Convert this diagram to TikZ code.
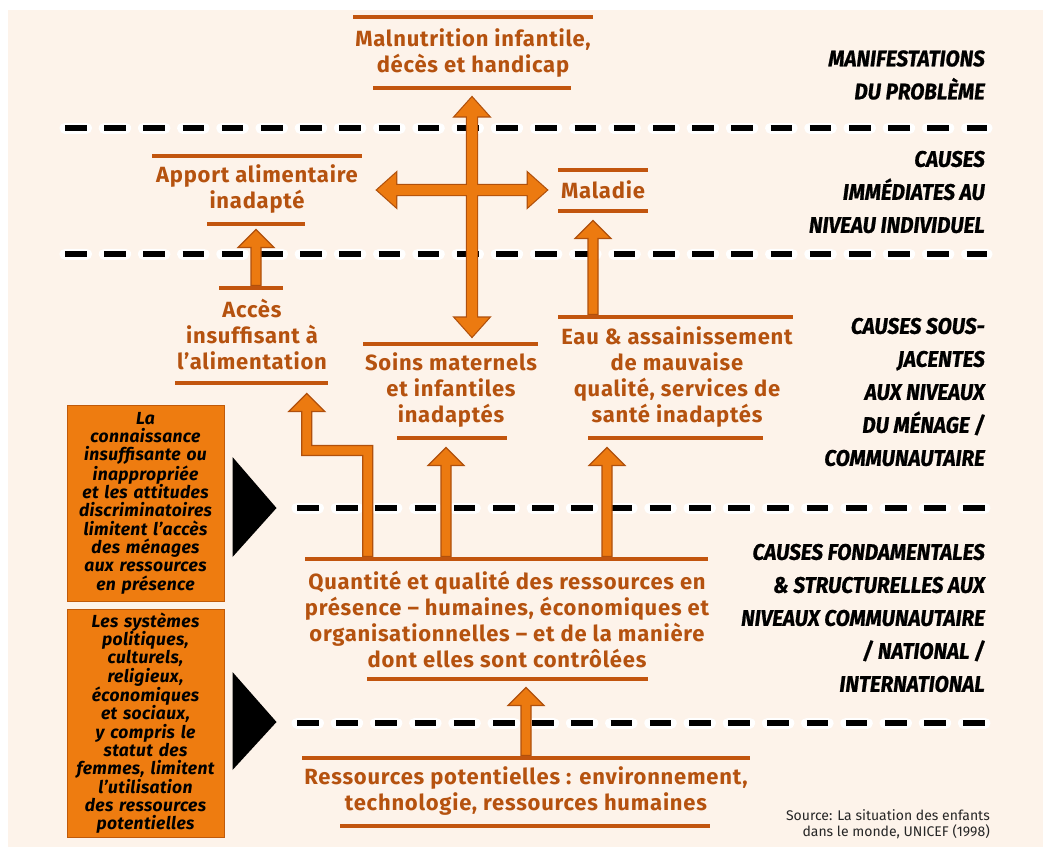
\documentclass[tikz,border=0pt]{standalone}
\usepackage{fontspec}
\setmainfont{Fira Sans}
\newfontfamily\lblfont{Fira Sans}[FakeStretch=0.92, FakeBold=0.8]
\newfontfamily\orfont{Fira Sans}[LetterSpace=3.5]
\newfontfamily\boxfont{Fira Sans}[LetterSpace=2]
\usetikzlibrary{calc}

\definecolor{cream}{HTML}{FDF3EA}
\definecolor{arrfill}{HTML}{EC7A10}
\definecolor{arrline}{HTML}{B0500C}
\definecolor{barcol}{HTML}{C2550E}
\definecolor{txtor}{HTML}{B5520F}
\definecolor{boxfill}{HTML}{EE7C10}
\definecolor{boxline}{HTML}{C05A0A}

\tikzset{
  causetext/.style={text=txtor, font=\orfont\fontsize{22}{26}\selectfont\bfseries, align=center, inner sep=0pt},
  levellabel/.style={font=\lblfont\fontsize{22.5}{33}\selectfont\bfseries\itshape, align=right, anchor=east, inner sep=0pt},
  bar/.style={fill=barcol, inner sep=0pt, minimum height=4.5pt, minimum width=#1},
  leftbox/.style={fill=boxfill, draw=boxline, line width=1pt, minimum width=157pt, inner sep=0pt,
    text width=155pt, align=center, font=\boxfont\fontsize{17.5}{18.3}\selectfont\bfseries\itshape},
  arrowbody/.style={fill=arrfill, draw=arrline, line width=1.2pt, line join=miter},
  % straight fat arrow drawn as an outlined polygon from start to tip
  fatarr/.style={to path={
    let \p1=(\tikztostart), \p2=(\tikztotarget), \p3=($(\p2)!18pt!(\p1)$) in
    ($(\p1)!5pt!90:(\p2)$) -- ($(\p3)!5pt!90:(\p2)$) -- ($(\p3)!18pt!90:(\p2)$) -- (\p2)
    -- ($(\p3)!18pt!-90:(\p2)$) -- ($(\p3)!5pt!-90:(\p2)$) -- ($(\p1)!5pt!-90:(\p2)$) -- cycle}},
  % fat arrow with a head at both ends
  fatdbl/.style={to path={
    let \p1=(\tikztostart), \p2=(\tikztotarget), \p3=($(\p2)!19pt!(\p1)$), \p4=($(\p1)!19pt!(\p2)$) in
    (\p1) -- ($(\p4)!17pt!90:(\p2)$) -- ($(\p4)!5pt!90:(\p2)$) -- ($(\p3)!5pt!90:(\p2)$)
    -- ($(\p3)!17pt!90:(\p2)$) -- (\p2) -- ($(\p3)!17pt!-90:(\p2)$) -- ($(\p3)!5pt!-90:(\p2)$)
    -- ($(\p4)!5pt!-90:(\p2)$) -- ($(\p4)!17pt!-90:(\p2)$) -- cycle}},
  halo/.style={white, line width=11pt, line cap=round, dash pattern=on 21.5pt off 17.7pt},
  dashline/.style={black, line width=6pt, dash pattern=on 21.5pt off 17.7pt}
}

\begin{document}
\begin{tikzpicture}[x=1pt,y=-1pt]
\useasboundingbox (0,0) rectangle (1043,847);
\fill[white] (0,0) rectangle (1043,847);
\fill[cream] (8,10) rectangle (1043,847);

% level separators
\foreach \yy/\xa in {128/65, 254/65, 508/297, 723/297}{
  \draw[halo] (\xa,\yy) -- (987,\yy);
  \draw[dashline] (\xa,\yy) -- (987,\yy);
}

% bars above and below each cause
\node[bar=240pt] (malTop) at (473,17) {};
\node[bar=198pt] (malBot) at (472,88) {};
\node[bar=210pt] (appTop) at (257,156) {};
\node[bar=98pt] (appBot) at (256,224) {};
\node[bar=90pt] (malaTop) at (603,170) {};
\node[bar=90pt] (malaBot) at (603,211) {};
\node[bar=64pt] (accTop) at (251,288) {};
\node[bar=153pt] (accBot) at (251.5,383) {};
\node[bar=175pt] (soinsTop) at (450.5,344) {};
\node[bar=110pt] (soinsBot) at (452,438) {};
\node[bar=235pt] (eauTop) at (675.5,317) {};
\node[bar=175pt] (eauBot) at (675.5,438) {};
\node[bar=403pt] (quantTop) at (506.5,559) {};
\node[bar=281pt] (quantBot) at (507.5,679) {};
\node[bar=448pt] (resTop) at (526,758) {};
\node[bar=370pt] (resBot) at (525,826) {};

% cause texts
\node[causetext] (mal) at (473,53) {Malnutrition infantile,\\décès et handicap};
\node[causetext] (apport) at (257,189) {Apport alimentaire\\inadapté};
\node[causetext] (maladie) at (603,190) {Maladie};
\node[causetext] (acces) at (252,334) {Accès\\insuffisant à\\l’alimentation};
\node[causetext] (soins) at (451,390) {Soins maternels\\et infantiles\\inadaptés};
\node[causetext] (eau) at (677,377) {Eau \& assainissement\\de mauvaise\\qualité, services de\\santé inadaptés};
\node[causetext] (quant) at (507,619) {Quantité et qualité des ressources en\\présence – humaines, économiques et\\organisationnelles – et de la manière\\dont elles sont contrôlées};
\node[causetext] (res) at (526,791) {Ressources potentielles : environnement,\\technologie, ressources humaines};

% crossing double arrows: outlines first, fills on top
\path[draw=arrline, line width=2.4pt]
  ($(malBot.south)+(0,7)$) to[fatdbl] ($(soinsTop.north -| malBot.south)+(0,-5)$)
  ($(appTop.east |- maladie.center)+(15,0)$) to[fatdbl] ($(malaTop.west |- maladie.center)+(-11,0)$);
\path[fill=arrfill]
  ($(malBot.south)+(0,7)$) to[fatdbl] ($(soinsTop.north -| malBot.south)+(0,-5)$)
  ($(appTop.east |- maladie.center)+(15,0)$) to[fatdbl] ($(malaTop.west |- maladie.center)+(-11,0)$);

% single arrows
\draw[arrowbody] (appBot.south |- accTop.north) to[fatarr] ($(appBot.south)+(0,3)$);
\draw[arrowbody] ($(malaBot.south |- eauTop.north)+(-10,0)$) to[fatarr] ($(malaBot.south)+(-10,7)$);
\draw[arrowbody] ($(soinsBot.south |- quantTop.north)+(-6,0)$) to[fatarr] ($(soinsBot.south)+(-6,7)$);
\draw[arrowbody] ($(eauBot.south |- quantTop.north)+(-68.5,0)$) to[fatarr] ($(eauBot.south)+(-68.5,7)$);
\draw[arrowbody] (resTop.north) to[fatarr] ($(quantBot.south -| resTop.north)+(0,6)$);

% bent arrow from resources up to food access
\coordinate (bendBase) at ($(quantTop.north west)+(63,0)$);
\coordinate (bendTip) at ($(accBot.south west)+(132,8)$);
\coordinate (bendLevel) at ($(quantTop.north)+(0,-106)$);
\draw[arrowbody] let \p1=(bendBase), \p2=(bendTip), \p3=(bendLevel) in
  ({\x1+5pt},{\y1}) -- ({\x1+5pt},{\y3+5pt}) -- ({\x2+5pt},{\y3+5pt}) -- ({\x2+5pt},{\y2-18pt})
  -- ({\x2+18pt},{\y2-18pt}) -- (\x2,\y2) -- ({\x2-18pt},{\y2-18pt}) -- ({\x2-5pt},{\y2-18pt})
  -- ({\x2-5pt},{\y3-5pt}) -- ({\x1-5pt},{\y3-5pt}) -- ({\x1-5pt},{\y1}) -- cycle;

% redraw bars that arrows start from
\foreach \b in {accTop, eauTop, quantTop, resTop}{
  \fill[barcol] (\b.south west) rectangle (\b.north east);
}

% level labels
\node[levellabel] (lvl1) at (985,75) {MANIFESTATIONS\\DU PROBLÈME};
\node[levellabel] (lvl2) at (985,192) {CAUSES\\IMMÉDIATES AU\\NIVEAU INDIVIDUEL};
\node[levellabel] (lvl3) at (985,392) {CAUSES SOUS-\\JACENTES\\AUX NIVEAUX\\DU MÉNAGE /\\COMMUNAUTAIRE};
\node[levellabel] (lvl4) at (985,618) {CAUSES FONDAMENTALES\\\& STRUCTURELLES AUX\\NIVEAUX COMMUNAUTAIRE\\/ NATIONAL /\\INTERNATIONAL};

% constraint boxes
\node[leftbox, minimum height=196pt] (box1) at (145.5,503) {La\\connaissance\\insuffisante ou\\inappropriée\\et les attitudes\\discriminatoires\\limitent l’accès\\des ménages\\aux ressources\\en présence};
\node[leftbox, minimum height=228pt] (box2) at (145.5,723) {Les systèmes\\politiques,\\culturels,\\religieux,\\économiques\\et sociaux,\\y compris le\\statut des\\femmes, limitent\\l’utilisation\\des ressources\\potentielles};

% pointers from the boxes to the levels
\fill[black] ($(box1.east)+(8,-46)$) -- ($(box1.east)+(52,5)$) -- ($(box1.east)+(8,54)$) -- cycle;
\fill[black] ($(box2.east)+(8,-51)$) -- ($(box2.east)+(52,-1)$) -- ($(box2.east)+(8,47)$) -- cycle;

% source
\node[anchor=east, align=right, inner sep=0pt, text=black!85, font=\fontsize{14}{16}\selectfont] (src) at (990,824) {Source: La situation des enfants\\dans le monde, UNICEF (1998)};
\end{tikzpicture}
\end{document}
